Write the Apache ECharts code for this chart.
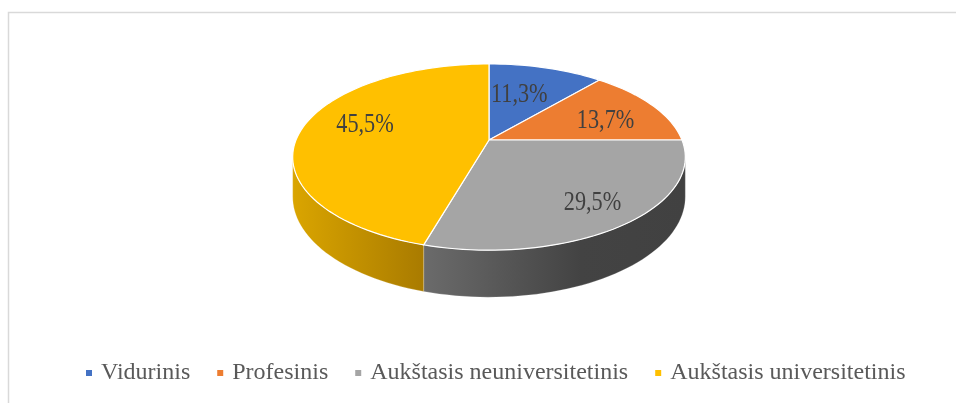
<!DOCTYPE html>
<html><head><meta charset="utf-8">
<script src="https://cdn.jsdelivr.net/npm/echarts@6/dist/echarts.min.js"></script>
<style>html,body{margin:0;padding:0;background:#fff}#c{width:956px;height:403px}</style>
</head><body><div id="c"></div>
<script>
// ---- data ----
const categories = ['Vidurinis', 'Profesinis', 'Aukštasis neuniversitetinis', 'Aukštasis universitetinis'];
const values = [11.3, 13.7, 29.5, 45.5];

// ---- style / layout ----
const colors = ['#4472C4', '#ED7D31', '#A5A5A5', '#FFC000'];
const wallColors = [['#34589a', '#2a4a82'], ['#c0641f', '#a3531a'], ['#6b6b6b', '#434343', '#414141'], ['#DAA500', '#A97B00']];
const G = { cx: 489, cy: 140, rx: 193, ry: 90, k: 0.183, H: 38.4 };
const labelPlace = [[0.49, -7], [0.70, 6], [0.79, -1], [0.66, -7]];

function proj(theta, t, down) {
  const a = theta * Math.PI / 180;
  const u = t * Math.sin(a), v = -t * Math.cos(a);
  const w = 1 - G.k * v;
  return [G.cx + G.rx * u / w, G.cy + (G.ry * v + (down ? G.H : 0)) / w];
}

function makeRender(i) {
  return function (params, api) {
    const total = values.reduce((s, v) => s + v, 0);
    let cum = 0;
    for (let j = 0; j < i; j++) cum += values[j];
    const a0 = 360 * cum / total;
    const a1 = 360 * (cum + api.value(0)) / total;
    const children = [];
    // side wall (visible front part only)
    const ta = Math.acos(-G.k) * 180 / Math.PI, tb = 360 - ta;
    const w0 = Math.max(a0, ta), w1 = Math.min(a1, tb);
    if (w1 > w0) {
      const M = Math.max(4, Math.ceil((w1 - w0) / 2));
      const pts = [];
      for (let n = 0; n <= M; n++) pts.push(proj(w0 + (w1 - w0) * n / M, 1, false));
      for (let n = M; n >= 0; n--) pts.push(proj(w0 + (w1 - w0) * n / M, 1, true));
      const wc = wallColors[i];
      const stops = wc.length > 2
        ? [{ offset: 0, color: wc[0] }, { offset: 0.6, color: wc[1] }, { offset: 1, color: wc[2] }]
        : [{ offset: 0, color: wc[0] }, { offset: 1, color: wc[1] }];
      children.push({
        type: 'polygon', z2: 1, shape: { points: pts },
        style: { fill: { type: 'linear', x: 0, y: 0, x2: 1, y2: 0, colorStops: stops }, stroke: 'rgba(255,255,255,0.35)', lineWidth: 0.6 }
      });
    }
    // top face
    const N = Math.max(4, Math.ceil((a1 - a0) / 2));
    const top = [proj(0, 0, false)];
    for (let n = 0; n <= N; n++) top.push(proj(a0 + (a1 - a0) * n / N, 1, false));
    children.push({
      type: 'polygon', z2: 2, shape: { points: top },
      style: { fill: colors[i], stroke: '#ffffff', lineWidth: 1.2 }
    });
    // label
    const mid = (a0 + a1) / 2;
    const lp = proj(mid, labelPlace[i][0], false);
    children.push({
      type: 'text', z2: 3, x: lp[0], y: lp[1] + labelPlace[i][1], scaleX: 0.84,
      style: {
        text: api.value(0).toFixed(1).replace('.', ',') + '%',
        x: 0, y: 0, align: 'center', verticalAlign: 'middle',
        fontSize: 26.5, fontFamily: '"Liberation Serif", "Times New Roman", serif', fill: '#404040'
      }
    });
    return { type: 'group', children: children };
  };
}

const chart = echarts.init(document.getElementById('c'), null, { renderer: 'canvas' });
chart.setOption({
  animation: false,
  backgroundColor: '#ffffff',
  graphic: [{
    type: 'rect', silent: true, z: -10,
    shape: { x: 8.5, y: 12.5, width: 1000, height: 1000 },
    style: { fill: 'none', stroke: '#d9d9d9', lineWidth: 1.5 }
  }],
  legend: {
    left: 81, top: 356, icon: 'rect', itemWidth: 6, itemHeight: 6, itemGap: 27,
    selectedMode: false,
    textStyle: { fontFamily: '"Liberation Serif", "Times New Roman", serif', fontSize: 24, color: '#595959', padding: [0, 0, 0, 4] },
    data: categories
  },
  series: categories.map((name, i) => ({
    type: 'custom', name: name, coordinateSystem: 'none',
    itemStyle: { color: colors[i] },
    renderItem: makeRender(i),
    data: [[values[i]]]
  }))
});
</script>
</body></html>
